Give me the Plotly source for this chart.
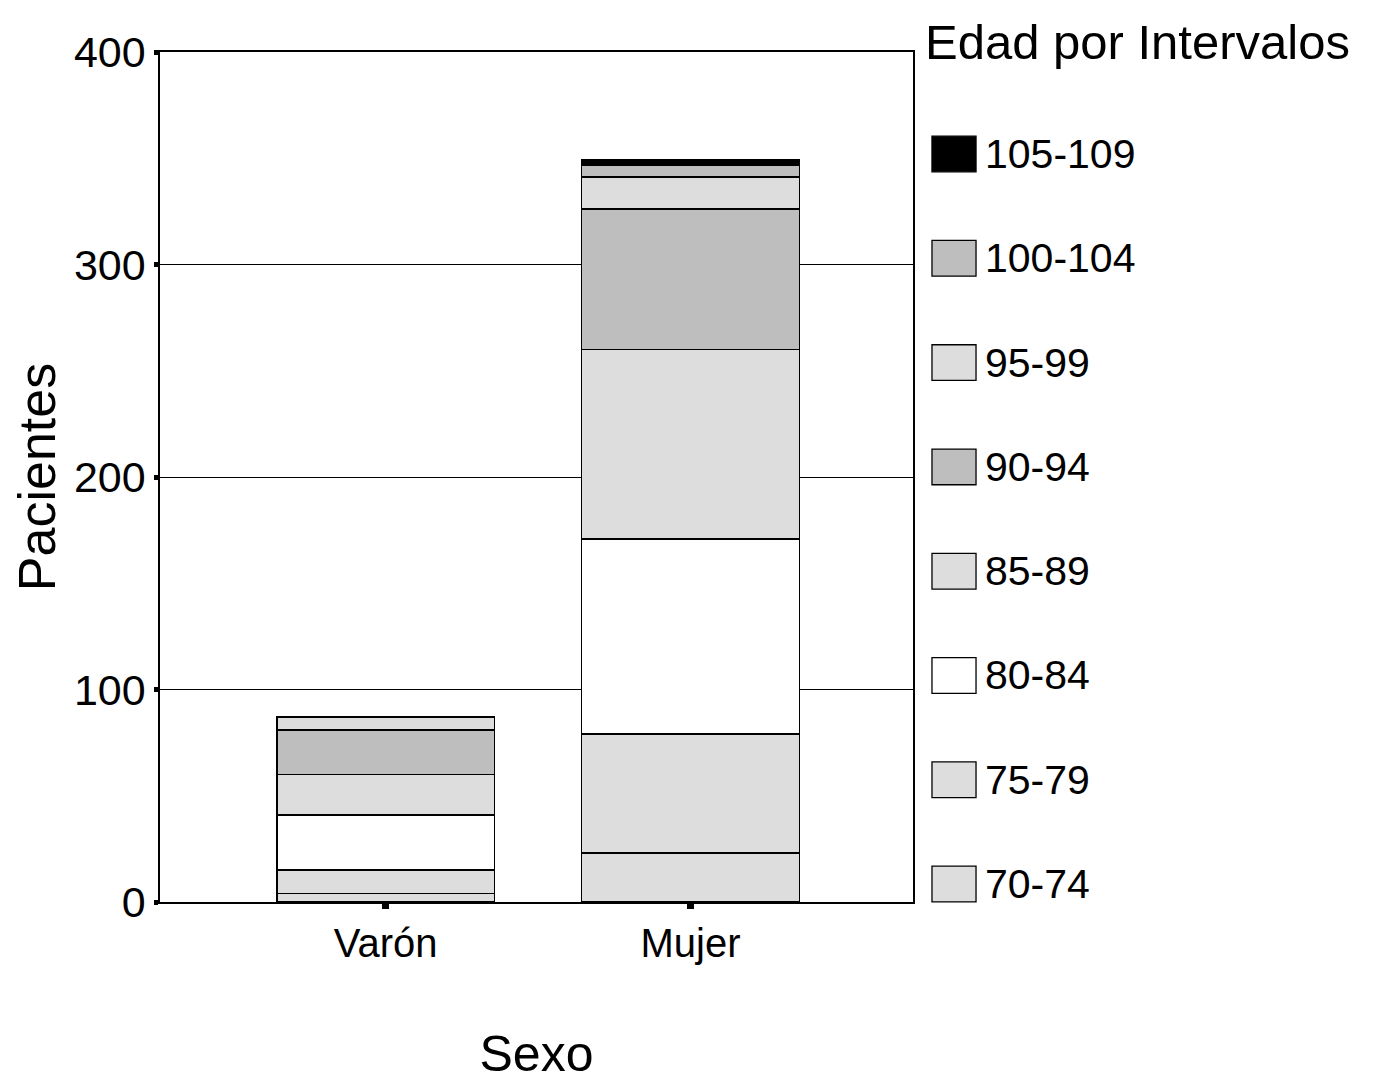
import plotly.graph_objects as go

sexos = ["Varón", "Mujer"]
intervalos = ["70-74", "75-79", "80-84", "85-89", "90-94", "95-99", "100-104", "105-109"]
varon = [4, 11, 26, 19, 21, 6, 0, 0]
mujer = [23, 56, 92, 89, 66, 15, 6, 2]
colores = ["#dddddd", "#dddddd", "#ffffff", "#dddddd", "#bebebe", "#dddddd", "#bebebe", "#000000"]
y_ticks = [0, 100, 200, 300, 400]

FONT = "Liberation Sans, Arial, sans-serif"

fig = go.Figure()
for i, nombre in enumerate(intervalos):
    fig.add_trace(go.Bar(
        x=sexos,
        y=[varon[i], mujer[i]],
        name=nombre,
        marker=dict(color=colores[i], line=dict(color="black", width=1.8)),
        width=0.715,
        showlegend=False,
    ))

# manual legend (largest interval on top)
for k, nombre in enumerate(reversed(intervalos)):
    color = colores[len(intervalos) - 1 - k]
    yc = 0.88 - k * 0.1227
    fig.add_shape(type="rect", xref="paper", yref="paper",
                  x0=1.0252, x1=1.0837, y0=yc - 0.021, y1=yc + 0.021,
                  fillcolor=color, line=dict(color="black", width=1.3))
    fig.add_annotation(x=1.093, y=yc, xref="paper", yref="paper", text=nombre,
                       showarrow=False, xanchor="left", yanchor="middle",
                       font=dict(size=41, color="black", family=FONT))

fig.add_annotation(x=1.013, y=1.012, xref="paper", yref="paper", text="Edad por Intervalos",
                   showarrow=False, xanchor="left", yanchor="middle",
                   font=dict(size=49, color="black", family=FONT))

fig.update_layout(
    barmode="stack",
    width=1397, height=1086,
    margin=dict(l=152, r=492, t=44, b=192),
    plot_bgcolor="white", paper_bgcolor="white",
    font=dict(family=FONT, color="black", size=42),
    xaxis=dict(
        range=[-0.74, 1.73], showline=True, linecolor="black", linewidth=1.5, mirror=True,
        ticks="outside", ticklen=5, tickwidth=7, tickcolor="black",
        tickfont=dict(size=40), showgrid=False,
        title=dict(text="Sexo", font=dict(size=50), standoff=72),
    ),
    yaxis=dict(
        range=[0, 400], tickvals=y_ticks, showline=True, linecolor="black", linewidth=1.5, mirror=True,
        ticks="outside", ticklen=4, tickwidth=5, tickcolor="black",
        tickfont=dict(size=43), showgrid=True, gridcolor="black", gridwidth=1.3,
        zeroline=False,
        title=dict(text="Pacientes", font=dict(size=52), standoff=12),
    ),
)

fig.write_html("out.html")
